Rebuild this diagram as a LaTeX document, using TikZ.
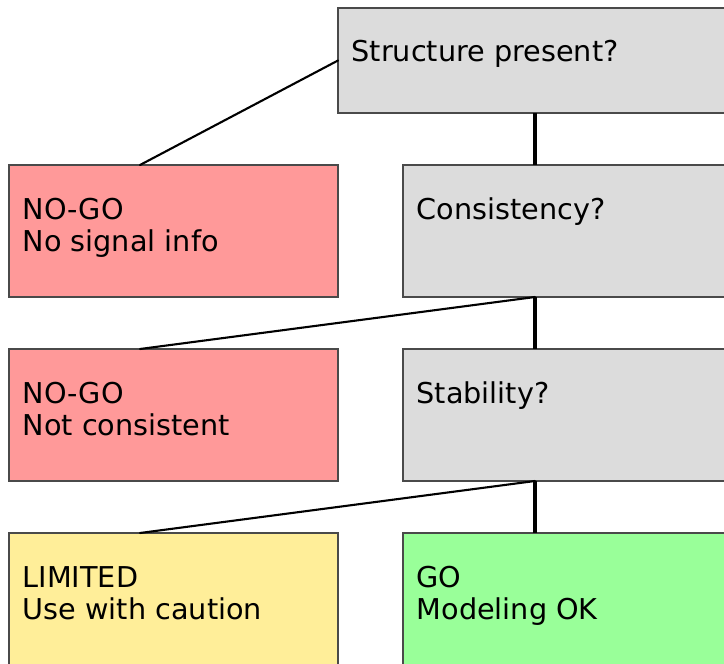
\documentclass[tikz,border=0pt]{standalone}
\usepackage{fontspec}
\setmainfont{DejaVu Sans}
\definecolor{qgray}{HTML}{DCDCDC}
\definecolor{nored}{HTML}{FF9999}
\definecolor{limyel}{HTML}{FFEE99}
\definecolor{gogreen}{HTML}{99FF99}
\definecolor{boxline}{HTML}{4A4A4A}
\begin{document}
\begin{tikzpicture}[x=1pt,y=-1pt,
  box/.style={draw=boxline, line width=1.3pt, rectangle, anchor=north west, inner sep=0pt, outer sep=0pt},
  qbox/.style={box, fill=qgray},
  nobox/.style={box, fill=nored},
  limbox/.style={box, fill=limyel},
  gobox/.style={box, fill=gogreen},
  lbl/.style={anchor=base west, inner sep=0pt, font=\fontsize{28.7}{32}\selectfont},
  link/.style={line width=2.1pt, line cap=round},
  trunk/.style={line width=3.3pt}]
\useasboundingbox (0,0) rectangle (724,664);
\clip (0,0) rectangle (724,664);
% boxes
\node[qbox, minimum width=460pt, minimum height=105pt] (q1) at (338,8) {};
\node[nobox, minimum width=329pt, minimum height=132pt] (r1) at (9,165) {};
\node[qbox, minimum width=400pt, minimum height=132pt] (q2) at (403,165) {};
\node[nobox, minimum width=329pt, minimum height=132pt] (r2) at (9,349) {};
\node[qbox, minimum width=400pt, minimum height=132pt] (q3) at (403,349) {};
\node[limbox, minimum width=329pt, minimum height=160pt] (lim) at (9,533) {};
\node[gobox, minimum width=400pt, minimum height=160pt] (go) at (403,533) {};
% texts
\node[lbl] (t1) at ([xshift=13.5pt,yshift=-53pt]q1.north west) {Structure present?};
\node[lbl] (t2a) at ([xshift=13.5pt,yshift=-54pt]r1.north west) {NO-GO};
\node[lbl] (t2b) at ([xshift=13.5pt,yshift=-86pt]r1.north west) {No signal info};
\node[lbl] (t3) at ([xshift=13.5pt,yshift=-54pt]q2.north west) {Consistency?};
\node[lbl] (t4a) at ([xshift=13.5pt,yshift=-54pt]r2.north west) {NO-GO};
\node[lbl] (t4b) at ([xshift=13.5pt,yshift=-86pt]r2.north west) {Not consistent};
\node[lbl] (t5) at ([xshift=13.5pt,yshift=-54pt]q3.north west) {Stability?};
\node[lbl] (t6a) at ([xshift=13.5pt,yshift=-54pt]lim.north west) {LIMITED};
\node[lbl] (t6b) at ([xshift=13.5pt,yshift=-86pt]lim.north west) {Use with caution};
\node[lbl] (t7a) at ([xshift=13.5pt,yshift=-54pt]go.north west) {GO};
\node[lbl] (t7b) at ([xshift=13.5pt,yshift=-86pt]go.north west) {Modeling OK};
% connectors
\draw[link] (q1.west) -- ([xshift=131pt]r1.north west);
\draw[trunk] ([xshift=197pt]q1.south west) -- ([xshift=132pt]q2.north west);
\draw[link] ([xshift=132pt]q2.south west) -- ([xshift=131pt]r2.north west);
\draw[trunk] ([xshift=132pt]q2.south west) -- ([xshift=132pt]q3.north west);
\draw[link] ([xshift=132pt]q3.south west) -- ([xshift=131pt]lim.north west);
\draw[trunk] ([xshift=132pt]q3.south west) -- ([xshift=132pt]go.north west);
\end{tikzpicture}
\end{document}
